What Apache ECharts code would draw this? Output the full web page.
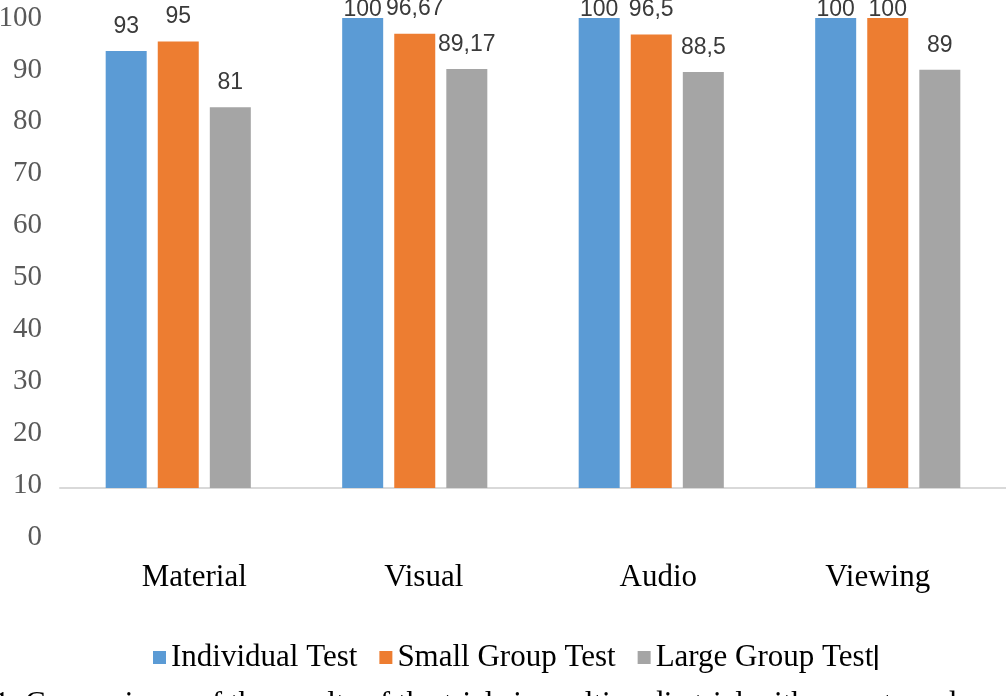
<!DOCTYPE html>
<html>
<head>
<meta charset="utf-8">
<script src="https://cdn.jsdelivr.net/npm/echarts@6/dist/echarts.min.js"></script>
<style>html,body{margin:0;padding:0;background:#fff;}#c{width:1006px;height:696px;}</style>
</head>
<body>
<div id="c"></div>
<script>
const categories = ['Material', 'Visual', 'Audio', 'Viewing'];
const individualTest = [93, 100, 100, 100];
const smallGroupTest = [95, 96.67, 96.5, 100];
const largeGroupTest = [81, 89.17, 88.5, 89];
const yTickLabels = ['0','10','20','30','40','50','60','70','80','90','100'];
const seriesNames = ['Individual Test', 'Small Group Test', 'Large Group Test'];
const captionText = '1. Comparisons of the results of the trials in multimedia trial with experts and';

// style constants
const colors = ['#5B9BD5', '#ED7D31', '#A5A5A5'];
const catLabelShift = [16, 9, 7, -10];
const serif = '"Liberation Serif", "Times New Roman", serif';

const chart = echarts.init(document.getElementById('c'), null, {renderer: 'canvas'});

function buildSeries(name, values, color) {
  return {
    name: name,
    type: 'bar',
    yAxisIndex: 0,
    barWidth: 41,
    barGap: '27%',
    itemStyle: {color: color},
    data: values.map(v => ({
      value: v,
      label: v >= 99 ? {offset: [0, 16]} : {}
    })),
    label: {
      show: true,
      position: 'top',
      distance: 13,
      color: '#3a3a3a',
      fontFamily: '"Liberation Sans", Arial, sans-serif',
      fontSize: 23,
      formatter: p => String(p.value).replace('.', ',')
    }
  };
}

const option = {
  animation: false,
  backgroundColor: '#fff',
  grid: {left: 60, right: 0, top: 18, bottom: 159, containLabel: false, outerBoundsMode: 'none'},
  xAxis: {
    type: 'category',
    data: categories.map((c, i) => ({
      value: c,
      textStyle: {padding: catLabelShift[i] >= 0 ? [0, 0, 0, 2 * catLabelShift[i]] : [0, -2 * catLabelShift[i], 0, 0]}
    })),
    axisLine: {show: true, onZero: true, onZeroAxisIndex: 0, lineStyle: {color: '#d9d9d9', width: 2}},
    axisTick: {show: false},
    axisLabel: {margin: 25, color: '#000', fontFamily: serif, fontSize: 31}
  },
  yAxis: [
    {
      type: 'value', position: 'right', show: false,
      min: -10.43, max: 100,
      splitLine: {show: false}
    },
    {
      type: 'value', position: 'left',
      min: 0, max: 100, interval: 10,
      axisLine: {show: false}, axisTick: {show: false}, splitLine: {show: false},
      axisLabel: {
        margin: 18, color: '#595959', fontFamily: serif, fontSize: 29,
        formatter: v => yTickLabels[Math.round(v / 10)]
      }
    }
  ],
  legend: {
    left: 148, top: 637,
    itemWidth: 13, itemHeight: 13, itemGap: 22,
    icon: 'rect',
    textStyle: {color: '#000', fontFamily: serif, fontSize: 31},
    data: seriesNames
  },
  graphic: [
    {type: 'rect', left: 875, top: 645, shape: {width: 2.5, height: 25}, style: {fill: '#000'}},
    {type: 'text', left: -6, top: 689, style: {text: captionText, fill: '#000', font: '31px ' + serif}}
  ],
  series: [
    buildSeries(seriesNames[0], individualTest, colors[0]),
    buildSeries(seriesNames[1], smallGroupTest, colors[1]),
    buildSeries(seriesNames[2], largeGroupTest, colors[2])
  ]
};
chart.setOption(option);
</script>
</body>
</html>
